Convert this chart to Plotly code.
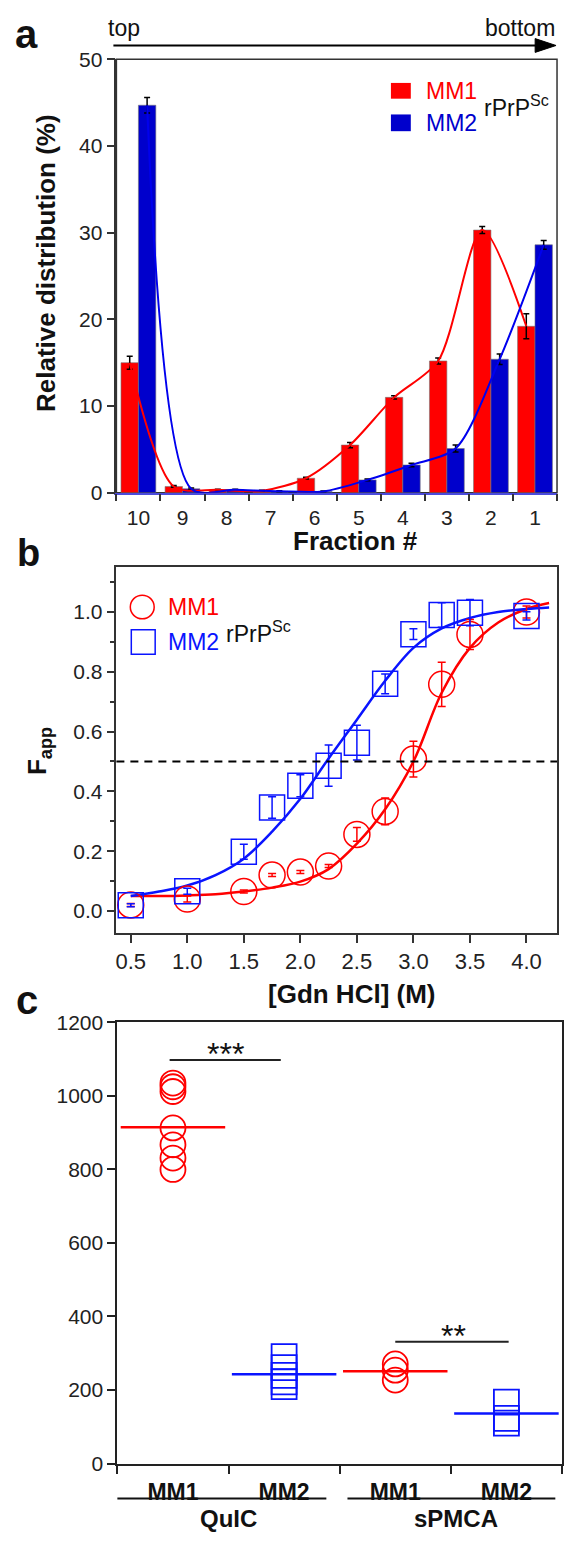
import plotly.graph_objects as go

# ---------------- data: panel a (sucrose gradient) ----------------
fractions = ["10", "9", "8", "7", "6", "5", "4", "3", "2", "1"]
mm1_dist = [15.0, 0.72, 0.34, 0.23, 1.67, 5.5, 11.0, 15.2, 30.3, 19.2]
mm1_dist_err = [0.75, 0.1, 0.05, 0.05, 0.1, 0.3, 0.2, 0.35, 0.4, 1.45]
mm2_dist = [44.7, 0.45, 0.34, 0.17, 0.15, 1.48, 3.2, 5.1, 15.4, 28.6]
mm2_dist_err = [0.9, 0.1, 0.05, 0.05, 0.05, 0.1, 0.2, 0.4, 0.6, 0.5]

# ---------------- data: panel b (GdnHCl denaturation) ----------------
gdn_conc = [0.5, 1.0, 1.5, 1.75, 2.0, 2.25, 2.5, 2.75, 3.0, 3.25, 3.5, 4.0]
mm1_fapp = [0.02, 0.04, 0.065, 0.12, 0.13, 0.15, 0.256, 0.333, 0.508, 0.758, 0.925, 1.0]
mm1_fapp_err = [0.005, 0.01, 0.005, 0.005, 0.005, 0.005, 0.023, 0.045, 0.06, 0.074, 0.05, 0.02]
mm2_fapp = [0.019, 0.066, 0.198, 0.346, 0.419, 0.486, 0.563, 0.76, 0.926, 0.99, 0.998, 0.987]
mm2_fapp_err = [0.005, 0.01, 0.025, 0.036, 0.037, 0.069, 0.058, 0.033, 0.018, 0.041, 0.044, 0.014]

fit_conc = [0.5, 0.75, 1.0, 1.25, 1.5, 1.75, 2.0, 2.25, 2.5, 2.75, 3.0, 3.25, 3.5, 3.75, 4.0, 4.2]
mm1_fit = [0.05, 0.05, 0.052, 0.056, 0.065, 0.078, 0.098, 0.14, 0.225, 0.34, 0.5, 0.73, 0.88, 0.965, 1.01, 1.03]
mm2_fit = [0.05, 0.065, 0.085, 0.12, 0.175, 0.265, 0.375, 0.51, 0.64, 0.77, 0.88, 0.945, 0.98, 1.0, 1.01, 1.015]
half_level = 0.5

# ---------------- data: panel c (seeding) ----------------
c_labels = ["MM1", "MM2", "MM1", "MM2"]
c_groups = ["QuIC", "sPMCA"]
quic_mm1 = [1035, 1025, 1012, 913, 867, 831, 800]
quic_mm2 = [291, 261, 240, 222, 209]
spmca_mm1 = [271, 254, 227]
spmca_mm2 = [167, 123, 110]
c_means = [915, 243, 251, 136]
sig_labels = ["***", "**"]
sig_levels = [1098, 331]

# ---------------- styling ----------------
W, H = 564, 1542
FONT = "Arial, Liberation Sans, sans-serif"
RED = "#ff0000"
BAR_BLUE = "#0000cc"
BLUE = "#0a14ff"
AX = "#333333"


def px(x):
    return x / W


def py(y):
    return 1 - y / H


fig = go.Figure()

# ---- panel a ----
idx = list(range(len(fractions)))
bargap = 0.21
off = (1 - bargap) / 4
fig.add_trace(go.Bar(x=idx, y=mm1_dist, marker=dict(color=RED, line=dict(color="#777", width=0.6)),
                     error_y=dict(type="data", array=mm1_dist_err, color="black", thickness=1.5, width=3),
                     xaxis="x", yaxis="y", showlegend=False))
fig.add_trace(go.Bar(x=idx, y=mm2_dist, marker=dict(color=BAR_BLUE, line=dict(color="#777", width=0.6)),
                     error_y=dict(type="data", array=mm2_dist_err, color="black", thickness=1.5, width=3),
                     xaxis="x", yaxis="y", showlegend=False))
fig.add_trace(go.Scatter(x=[i - off for i in idx], y=mm1_dist, mode="lines",
                         line=dict(color=RED, width=2, shape="spline", smoothing=0.8),
                         xaxis="x", yaxis="y", showlegend=False))
fig.add_trace(go.Scatter(x=[i + off for i in idx], y=mm2_dist, mode="lines",
                         line=dict(color="#0000ee", width=2, shape="spline", smoothing=0.8),
                         xaxis="x", yaxis="y", showlegend=False))

# ---- panel b ----
fig.add_trace(go.Scatter(x=fit_conc, y=mm1_fit, mode="lines", line=dict(color=RED, width=2.5, shape="spline"),
                         xaxis="x2", yaxis="y2", showlegend=False))
fig.add_trace(go.Scatter(x=fit_conc, y=mm2_fit, mode="lines", line=dict(color=BLUE, width=2.5, shape="spline"),
                         xaxis="x2", yaxis="y2", showlegend=False))
fig.add_trace(go.Scatter(x=gdn_conc, y=mm1_fapp, mode="markers",
                         marker=dict(symbol="circle-open", size=26, color=RED, line=dict(width=1.5)),
                         error_y=dict(type="data", array=mm1_fapp_err, color=RED, thickness=1.5, width=4),
                         xaxis="x2", yaxis="y2", showlegend=False))
fig.add_trace(go.Scatter(x=gdn_conc, y=mm2_fapp, mode="markers",
                         marker=dict(symbol="square-open", size=25, color=BLUE, line=dict(width=1.5)),
                         error_y=dict(type="data", array=mm2_fapp_err, color=BLUE, thickness=1.5, width=4),
                         xaxis="x2", yaxis="y2", showlegend=False))

# ---- panel c ----
c_sets = [quic_mm1, quic_mm2, spmca_mm1, spmca_mm2]
for i, vals in enumerate(c_sets):
    is_mm1 = (i % 2 == 0)
    col = RED if is_mm1 else BLUE
    sym = "circle-open" if is_mm1 else "square-open"
    fig.add_trace(go.Scatter(x=[i] * len(vals), y=vals, mode="markers",
                             marker=dict(symbol=sym, size=25, color=col, line=dict(width=1.8)),
                             xaxis="x3", yaxis="y3", showlegend=False))
    fig.add_trace(go.Scatter(x=[i - 0.47, i + 0.47], y=[c_means[i]] * 2, mode="lines",
                             line=dict(color=col, width=2.5), xaxis="x3", yaxis="y3", showlegend=False))

tickfont = dict(family=FONT, size=21, color="#222")

layout_axes = dict(
    xaxis=dict(domain=[px(116), px(559)], anchor="y", range=[-0.5, 9.5], tickmode="array",
               tickvals=idx, ticktext=fractions, ticks="outside", ticklen=5, tickcolor="rgba(0,0,0,0)",
               showline=True, linecolor="#4b4bdc", linewidth=1.5, showgrid=False, zeroline=False,
               tickfont=tickfont,
               minor=dict(tickmode="array", tickvals=[i - 0.5 for i in range(11)], ticks="outside",
                          ticklen=7, tickwidth=1.5, tickcolor=AX, showgrid=False)),
    yaxis=dict(domain=[py(488), py(48)], anchor="x", range=[0, 50], tickmode="array",
               tickvals=[0, 10, 20, 30, 40, 50], ticks="outside", ticklen=8, tickwidth=1.5, tickcolor=AX,
               showline=True, linecolor=AX, linewidth=1.5, showgrid=False, zeroline=False, tickfont=tickfont),
    xaxis2=dict(domain=[px(116), px(559)], anchor="y2", range=[0.373, 4.27], tickmode="array",
                tickvals=[0.5, 1.0, 1.5, 2.0, 2.5, 3.0, 3.5, 4.0], tickformat=".1f", ticks="outside",
                ticklen=8, tickwidth=1.5, tickcolor=AX, showline=True, mirror=True, linecolor=AX,
                linewidth=1.5, showgrid=False, zeroline=False, tickfont=dict(family=FONT, size=22, color="#222")),
    yaxis2=dict(domain=[py(935), py(563)], anchor="x2", range=[-0.074, 1.152], tickmode="array",
                tickvals=[0, 0.2, 0.4, 0.6, 0.8, 1.0], tickformat=".1f", ticks="outside", ticklen=8,
                tickwidth=1.5, tickcolor=AX, showline=True, mirror=True, linecolor=AX, linewidth=1.5,
                showgrid=False, zeroline=False, tickfont=tickfont,
                minor=dict(tickmode="array", tickvals=[0.1, 0.3, 0.5, 0.7, 0.9, 1.1], ticks="outside",
                           ticklen=5, tickwidth=1.5, tickcolor=AX, showgrid=False)),
    xaxis3=dict(domain=[px(117), 1.0], anchor="y3", range=[-0.5, 3.5], tickmode="array",
                tickvals=[0, 1, 2, 3], ticktext=c_labels, ticks="outside", ticklen=7,
                tickcolor="rgba(0,0,0,0)", showline=True, mirror=True, linecolor="#222", linewidth=2,
                showgrid=False, zeroline=False,
                tickfont=dict(family=FONT, size=23, color="#111", weight="bold"),
                minor=dict(tickmode="array", tickvals=[-0.5, 0.5, 1.5, 2.5, 3.5], ticks="outside",
                           ticklen=8, tickwidth=2, tickcolor="#222", showgrid=False)),
    yaxis3=dict(domain=[py(1473.5), py(1025.7)], anchor="x3", range=[0, 1200], tickmode="array",
                tickvals=[0, 200, 400, 600, 800, 1000, 1200], ticks="outside", ticklen=8, tickwidth=2,
                tickcolor="#222", showline=True, mirror=True, linecolor="#222", linewidth=2,
                showgrid=False, zeroline=False, tickfont=tickfont),
)

shapes = [
    # panel a frame
    dict(type="rect", xref="x domain", yref="y domain", x0=0, x1=1, y0=0, y1=1,
         line=dict(color=AX, width=1.5), layer="below"),
    # "top -> bottom" arrow (shaft + head)
    dict(type="line", xref="paper", yref="paper", x0=px(113), x1=px(545), y0=py(34), y1=py(34),
         line=dict(color="black", width=1.8)),
    dict(type="path", xref="paper", yref="paper",
         path=f"M {px(537)},{py(27)} L {px(558)},{py(34)} L {px(537)},{py(41)} Z",
         fillcolor="black", line=dict(color="black", width=1)),
    # panel b half-denaturation line
    dict(type="line", xref="x2 domain", yref="y2", x0=0, x1=1, y0=half_level, y1=half_level,
         line=dict(color="black", width=2, dash="8px,6px")),
    # panel a legend swatches
    dict(type="rect", xref="paper", yref="paper", x0=px(392), x1=px(412), y0=py(88), y1=py(72),
         fillcolor=RED, line=dict(color=RED, width=0)),
    dict(type="rect", xref="paper", yref="paper", x0=px(392), x1=px(412), y0=py(121), y1=py(104),
         fillcolor=BAR_BLUE, line=dict(color=BAR_BLUE, width=0)),
    # panel b legend symbols
    dict(type="circle", xref="paper", yref="paper", x0=px(130), x1=px(154), y0=py(616), y1=py(592),
         line=dict(color=RED, width=1.5)),
    dict(type="rect", xref="paper", yref="paper", x0=px(131), x1=px(155), y0=py(652), y1=py(627),
         line=dict(color=BLUE, width=1.5)),
    # panel c significance bars
    dict(type="line", xref="x3", yref="y3", x0=-0.03, x1=0.97, y0=sig_levels[0], y1=sig_levels[0],
         line=dict(color="#222", width=2)),
    dict(type="line", xref="x3", yref="y3", x0=2.0, x1=3.02, y0=sig_levels[1], y1=sig_levels[1],
         line=dict(color="#222", width=2)),
    # panel c group underlines
    dict(type="line", xref="x3", yref="paper", x0=-0.52, x1=1.38, y0=py(1509), y1=py(1509),
         line=dict(color="#111", width=2.2)),
    dict(type="line", xref="x3", yref="paper", x0=1.57, x1=3.44, y0=py(1509), y1=py(1509),
         line=dict(color="#111", width=2.2)),
]


def ann(text, x, y, size, color="#111", xanchor="center", yanchor="middle", angle=0, bold=False,
        xref="paper", yref="paper", yshift=0):
    return dict(text=f"<b>{text}</b>" if bold else text, x=x, y=y, xref=xref, yref=yref,
                xanchor=xanchor, yanchor=yanchor, showarrow=False, textangle=angle, yshift=yshift,
                font=dict(family=FONT, size=size, color=color))


annotations = [
    ann("a", px(26), py(22), 40, bold=True),
    ann("b", px(28), py(549), 38, bold=True),
    ann("c", px(26), py(1003), 40, bold=True),
    ann("top", px(124), py(16), 23),
    ann("bottom", px(522), py(16), 23),
    ann("Relative distribution (%)", px(45), py(255), 26, angle=-90, bold=True),
    ann("Fraction #", px(356), py(537), 26, bold=True),
    ann("MM1", px(425), py(80), 23, color=RED, xanchor="left"),
    ann("MM2", px(425), py(113), 23, color=BAR_BLUE, xanchor="left"),
    ann("rPrP<sup>Sc</sup>", px(484), py(95), 23, xanchor="left"),
    ann("F<sub>app</sub>", px(38.5), py(750), 26, angle=-90, bold=True),
    ann("[Gdn HCl] (M)", px(353), py(997), 26, bold=True),
    ann("MM1", px(166), py(604), 23, color=RED, xanchor="left"),
    ann("MM2", px(166), py(640), 23, color=BLUE, xanchor="left"),
    ann("rPrP<sup>Sc</sup>", px(224), py(629), 23, xanchor="left"),
    ann(sig_labels[0], 0.47, sig_levels[0], 32, xref="x3", yref="y3", yanchor="bottom", yshift=-14),
    ann(sig_labels[1], 2.52, sig_levels[1], 32, xref="x3", yref="y3", yanchor="bottom", yshift=-14),
    ann(c_groups[0], px(229), py(1529), 24, bold=True),
    ann(c_groups[1], px(457), py(1529), 24, bold=True),
]

fig.update_layout(
    width=W, height=H, autosize=False,
    margin=dict(l=0, r=0, t=0, b=0),
    paper_bgcolor="white", plot_bgcolor="white",
    barmode="group", bargap=bargap, bargroupgap=0,
    font=dict(family=FONT, color="#111"),
    shapes=shapes, annotations=annotations,
    **layout_axes,
)

fig.write_html("out.html", config={"displayModeBar": False},
               post_script="document.body.style.margin='0px';document.body.style.overflow='hidden';")
